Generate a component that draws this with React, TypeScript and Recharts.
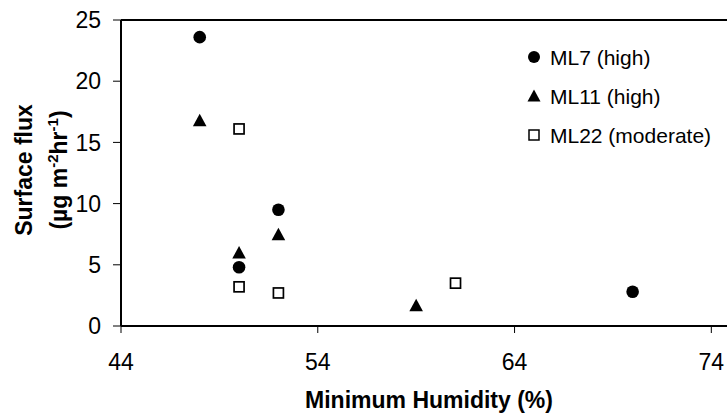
import React from 'react';
import { ScatterChart, Scatter, XAxis, YAxis, ReferenceLine, Legend, Label } from 'recharts';

const ml7Humidity = [48, 50, 52, 70];
const ml7Flux = [23.6, 4.8, 9.5, 2.8];
const ml11Humidity = [48, 50, 52, 59];
const ml11Flux = [16.8, 6.0, 7.5, 1.7];
const ml22Humidity = [50, 50, 52, 61];
const ml22Flux = [16.1, 3.2, 2.7, 3.5];

const seriesNames = ['ML7 (high)', 'ML11 (high)', 'ML22 (moderate)'];
const xTicks = [44, 54, 64, 74];
const yTicks = [0, 5, 10, 15, 20, 25];

const toPoints = (xs: number[], ys: number[]) => xs.map((x, i) => ({ x, y: ys[i] }));
const ml7Data = toPoints(ml7Humidity, ml7Flux);
const ml11Data = toPoints(ml11Humidity, ml11Flux);
const ml22Data = toPoints(ml22Humidity, ml22Flux);

const FONT = '"Liberation Sans", Arial, Helvetica, sans-serif';

const CircleShape = (p: any) => <circle cx={p.cx} cy={p.cy} r={6.3} fill="#000" />;
const TriangleShape = (p: any) => (
  <path d={`M${p.cx},${p.cy - 6.5}L${p.cx + 6.8},${p.cy + 6}L${p.cx - 6.8},${p.cy + 6}Z`} fill="#000" />
);
const SquareShape = (p: any) => (
  <rect x={p.cx - 5} y={p.cy - 5} width={10} height={10} fill="#fff" stroke="#000" strokeWidth={1.7} />
);

const legendIcons = [
  <circle cx={8} cy={8} r={6} fill="#000" />,
  <path d="M8,1.5L14.5,13.5L1.5,13.5Z" fill="#000" />,
  <rect x={3} y={3} width={10} height={10} fill="#fff" stroke="#000" strokeWidth={1.5} />,
];

const renderLegend = () => (
  <div style={{ fontFamily: FONT, fontSize: 21, color: '#000' }}>
    {seriesNames.map((name, i) => (
      <div key={name} style={{ display: 'flex', alignItems: 'center', height: 39 }}>
        <svg width={16} height={16} style={{ marginRight: 8 }}>{legendIcons[i]}</svg>
        <span style={{ lineHeight: '39px', whiteSpace: 'nowrap' }}>{name}</span>
      </div>
    ))}
  </div>
);

const yTitle = () => (
  <g fontFamily={FONT} fontWeight="bold" fill="#000">
    <text transform="translate(32,170) rotate(-90)" textAnchor="middle" fontSize={23}>Surface flux</text>
    <text transform="translate(67,170) rotate(-90)" textAnchor="middle" fontSize={23}>
      (µg m<tspan fontSize={15} dy={-9}>-2</tspan>
      <tspan dy={9}>hr</tspan>
      <tspan fontSize={15} dy={-9}>-1</tspan>
      <tspan dy={9}>)</tspan>
    </text>
  </g>
);

const xTitle = () => (
  <text x={429} y={408} textAnchor="middle" fontFamily={FONT} fontWeight="bold" fontSize={23} fill="#000">
    Minimum Humidity (%)
  </text>
);

export default function App() {
  return (
    <div style={{ position: 'absolute', left: 0, top: 0, width: 727, height: 416, overflow: 'hidden', background: '#fff' }}>
      <ScatterChart width={740} height={416} margin={{ top: 20, right: 9, bottom: 0, left: 0 }}>
        <XAxis
          type="number"
          dataKey="x"
          domain={[44, 75]}
          ticks={xTicks}
          allowDataOverflow
          height={90}
          tickSize={7}
          tickMargin={21}
          axisLine={{ stroke: '#000', strokeWidth: 2 }}
          tickLine={{ stroke: '#000', strokeWidth: 1 }}
          tick={{ fill: '#000', fontSize: 23, fontFamily: FONT }}
        >
          <Label content={xTitle} />
        </XAxis>
        <YAxis
          type="number"
          dataKey="y"
          domain={[0, 25]}
          ticks={yTicks}
          allowDataOverflow
          width={121}
          tickSize={8}
          tickMargin={12}
          axisLine={{ stroke: '#000', strokeWidth: 2 }}
          tickLine={{ stroke: '#000', strokeWidth: 1 }}
          tick={{ fill: '#000', fontSize: 23, fontFamily: FONT }}
        >
          <Label content={yTitle} />
        </YAxis>
        <ReferenceLine y={25} stroke="#000" strokeWidth={2} />
        <Legend
          layout="horizontal"
          verticalAlign="middle"
          align="center"
          content={renderLegend}
          wrapperStyle={{ left: 526, top: 37.5, width: 200, height: 117 }}
        />
        <Scatter name={seriesNames[0]} data={ml7Data} shape={CircleShape} isAnimationActive={false} />
        <Scatter name={seriesNames[1]} data={ml11Data} shape={TriangleShape} isAnimationActive={false} />
        <Scatter name={seriesNames[2]} data={ml22Data} shape={SquareShape} isAnimationActive={false} />
      </ScatterChart>
    </div>
  );
}
